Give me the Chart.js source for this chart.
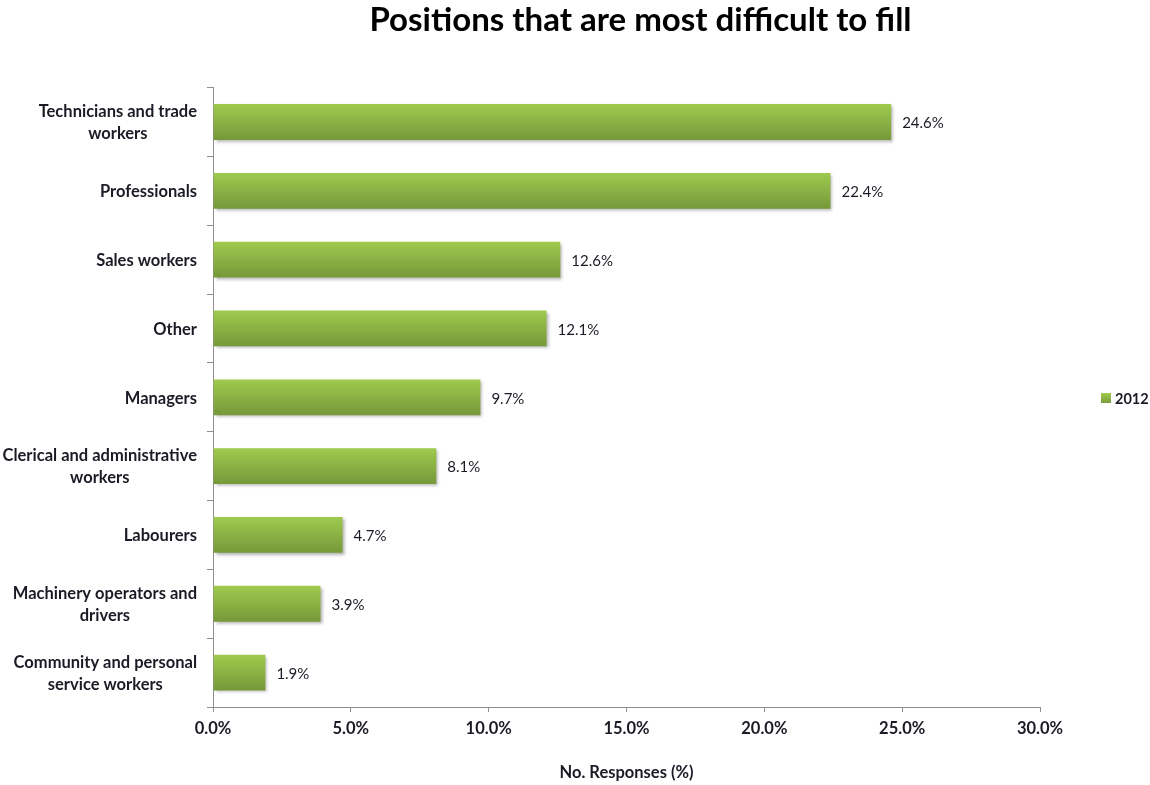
<!DOCTYPE html>
<html><head><meta charset="utf-8">
<script src="https://cdn.jsdelivr.net/npm/chart.js@4.4.0/dist/chart.umd.min.js"></script>
<style>html,body{margin:0;padding:0;background:#fff}#wrap{position:relative;width:1150px;height:785px}</style>
</head><body><div id="wrap"><canvas id="c"></canvas></div>
<script>
const categories = [["Technicians and trade","workers"],"Professionals","Sales workers","Other","Managers",["Clerical and administrative","workers"],"Labourers",["Machinery operators and","drivers"],["Community and personal","service workers"]];
const values2012 = [24.6,22.4,12.6,12.1,9.7,8.1,4.7,3.9,1.9];
const xTicks = [0,5,10,15,20,25,30];
const seriesName = "2012";
const chartTitle = "Positions that are most difficult to fill";
const xAxisTitle = "No. Responses (%)";

const FONT = 'Lato, "Open Sans", sans-serif';
const TEXT = '#1b1b26';
const AXIS = '#8f8f8f';
const GREEN_TOP = '#9fca4e';
const GREEN_BOT = '#76983a';
const BAR_PCT = 0.52;
Chart.defaults.font.family = FONT;
Chart.defaults.color = TEXT;

function vGrad(c, top, bottom){
  const g = c.createLinearGradient(0, top, 0, bottom);
  g.addColorStop(0, GREEN_TOP); g.addColorStop(1, GREEN_BOT);
  return g;
}
function barFill(ctx){
  return ctx.type === 'data' ? GREEN_TOP : GREEN_BOT;
}

const shiftTitle = {
  id: 'shiftTitle',
  afterLayout(chart){ const t = chart.titleBlock; if (t) { t.left += 14; t.right += 14; } }
};

const shadowPlugin = {
  id: 'barShadow',
  beforeDatasetsDraw(chart){
    const c = chart.ctx;
    chart.getDatasetMeta(0).data.forEach(bar => {
      const h = bar.height;
      if (isFinite(bar.y) && isFinite(h)) bar.options.backgroundColor = vGrad(c, bar.y - h / 2, bar.y + h / 2);
    });
    c.save(); c.shadowColor='rgba(0,0,0,0.3)'; c.shadowBlur=3; c.shadowOffsetX=2; c.shadowOffsetY=2;
  },
  afterDatasetsDraw(chart){ chart.ctx.restore(); }
};

const textPlugin = {
  id: 'texts',
  afterDraw(chart){
    const c = chart.ctx, y = chart.scales.y, meta = chart.getDatasetMeta(0);
    c.save();
    c.font = '15px ' + FONT; c.fillStyle = TEXT; c.textBaseline = 'middle'; c.textAlign = 'left';
    meta.data.forEach((bar, i) => {
      c.fillText(values2012[i].toFixed(1) + '%', bar.x + 11, bar.y + 1.5);
    });
    c.font = 'bold 16.5px ' + FONT; c.textAlign = 'center';
    const right = y.right - 16, lh = 22;
    categories.forEach((lab, i) => {
      const lines = Array.isArray(lab) ? lab : [lab];
      const w = Math.max(...lines.map(l => c.measureText(l).width));
      const cx = right - w / 2, cy = y.getPixelForValue(i);
      lines.forEach((l, k) => c.fillText(l, cx, cy - (lines.length - 1) * lh / 2 + k * lh + 1));
    });
    c.fillStyle = vGrad(c, 393, 404); c.fillRect(1101, 393, 10, 10);
    c.fillStyle = TEXT; c.textAlign = 'left'; c.font = 'bold 14.5px ' + FONT;
    c.fillText(seriesName, 1115, 399);
    c.restore();
  }
};

new Chart(document.getElementById('c'), {
  type: 'bar',
  data: {
    labels: categories,
    datasets: [{ label: seriesName, data: values2012, backgroundColor: barFill, borderWidth: 0, barPercentage: BAR_PCT, categoryPercentage: 1 }]
  },
  options: {
    indexAxis: 'y',
    responsive: true, maintainAspectRatio: false, animation: false,
    layout: { padding: { top: 0, right: 110, bottom: 0, left: 0 } },
    plugins: {
      legend: { display: false },
      tooltip: { enabled: false },
      title: { display: true, text: chartTitle, fullSize: false, color: '#000', font: { size: 33, weight: 'bold' }, padding: { top: 1, bottom: 47 } }
    },
    scales: {
      x: {
        min: 0, max: 30,
        afterBuildTicks: s => { s.ticks = xTicks.map(v => ({ value: v })); },
        ticks: { callback: v => Number(v).toFixed(1) + '%', font: { size: 16.5, weight: 'bold' }, padding: 7, color: TEXT, maxRotation: 0 },
        grid: { drawOnChartArea: false, tickLength: 5, color: AXIS },
        border: { color: AXIS },
        title: { display: true, text: xAxisTitle, font: { size: 16.5, weight: 'bold' }, color: TEXT, padding: { top: 0, bottom: 2 } },
        afterFit: s => { s.height = 78; }
      },
      y: {
        grid: { drawOnChartArea: false, offset: true, tickLength: 6, color: AXIS },
        border: { color: AXIS },
        ticks: { color: 'rgba(0,0,0,0)', font: { size: 14, weight: 'bold' } },
        afterFit: s => { s.width = 213; }
      }
    }
  },
  plugins: [shiftTitle, shadowPlugin, textPlugin]
});
</script>
</body></html>
